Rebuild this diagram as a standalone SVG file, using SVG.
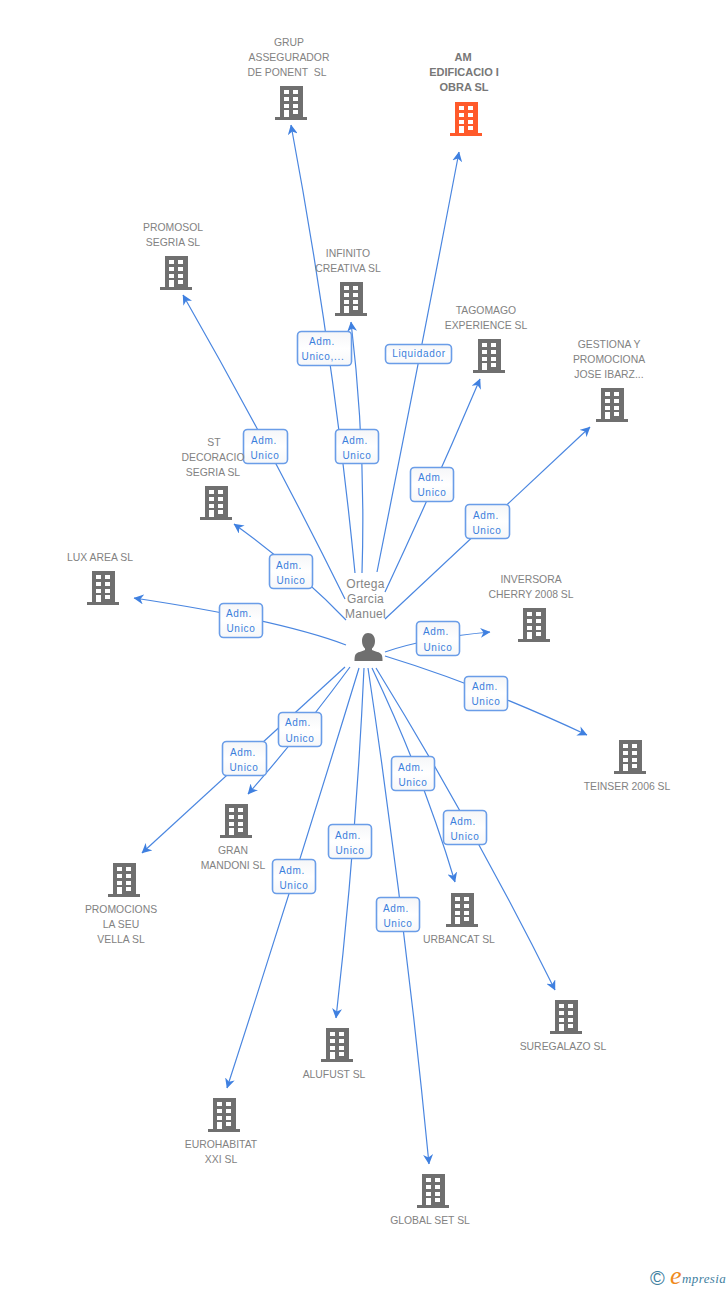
<svg xmlns="http://www.w3.org/2000/svg" width="728" height="1290" viewBox="0 0 728 1290">
<style>
text{font-family:"Liberation Sans",Arial,sans-serif}
.n{font-size:10.4px;fill:#828282;text-anchor:middle}
.b{font-weight:bold;font-size:11px;fill:#777}
.p{font-size:12px;fill:#858585;text-anchor:middle;letter-spacing:.3px}
.c path{fill:none;stroke:#4a86e0;stroke-width:1.2;marker-end:url(#a)}
.l rect{fill:url(#g);stroke:#6a9de8;stroke-width:1.6}
.l text{font-size:10px;fill:#3a7fdc;text-anchor:middle;letter-spacing:.7px}
</style>
<defs>
<linearGradient id="g" x1="0" y1="0" x2="0" y2="1"><stop offset="0" stop-color="#f5f6f8"/><stop offset=".5" stop-color="#fff"/><stop offset="1" stop-color="#f6f7f9"/></linearGradient>
<marker id="a" viewBox="0 0 10 10" refX="9.500" refY="5" markerWidth="10" markerHeight="10" markerUnits="userSpaceOnUse" orient="auto"><path d="M0 0L10 5L0 10L3 5Z" fill="#3f80e0"/></marker>
<symbol id="bld" width="33" height="35" viewBox="0 0 33 35">
<path fill-rule="evenodd" d="M5 0H28V31H32V34H0V31H5ZM9 4V8H14V4ZM18 4V8H23V4ZM9 11V15H14V11ZM18 11V15H23V11ZM9 18V22H14V18ZM18 18V22H23V18ZM9 24V31H14V24ZM18 24V28H23V24Z"/>
</symbol>
</defs>
<g class="c" id="connectors">
<path d="M355 573Q333 349 291 125"/>
<path d="M377 572Q419 362 459 152"/>
<path d="M345 599Q270 447 183 295"/>
<path d="M362 573Q366 447 351 322"/>
<path d="M385 592Q435 485 480 379"/>
<path d="M385 619L590 427"/>
<path d="M346 620Q298 570 234 524"/>
<path d="M346 645Q280 620 134 598"/>
<path d="M385 652Q425 638 490 632"/>
<path d="M385 656Q480 685 587 735"/>
<path d="M350 667Q300 735 248 794"/>
<path d="M345 667L142 853"/>
<path d="M359 668Q295 878 227 1088"/>
<path d="M364 668Q356 843 336 1018"/>
<path d="M368 668Q405 916 429 1164"/>
<path d="M372 668Q423 775 455 882"/>
<path d="M376 668Q475 829 555 990"/>
</g>
<g class="l" id="labels">
<g><rect x="243.500" y="429.500" width="44" height="34" rx="4"/><text x="264" y="444">Adm.</text><text x="265" y="459">Unico</text></g>
<g><rect x="335.500" y="429.500" width="43" height="34" rx="4"/><text x="355" y="444">Adm.</text><text x="357" y="459">Unico</text></g>
<g><rect x="297.500" y="331.500" width="54" height="34" rx="4"/><text x="322" y="345">Adm.</text><text x="323" y="360">Unico,...</text></g>
<g><rect x="385.500" y="344.500" width="66" height="19" rx="4"/><text x="419" y="357">Liquidador</text></g>
<g><rect x="410.500" y="467.500" width="43" height="34" rx="4"/><text x="431" y="481">Adm.</text><text x="432" y="496">Unico</text></g>
<g><rect x="465.500" y="504.500" width="44" height="34" rx="4"/><text x="486" y="519">Adm.</text><text x="487" y="534">Unico</text></g>
<g><rect x="269.500" y="554.500" width="43" height="34" rx="4"/><text x="289" y="569">Adm.</text><text x="291" y="584">Unico</text></g>
<g><rect x="219.500" y="603.500" width="43" height="34" rx="4"/><text x="239" y="617">Adm.</text><text x="241" y="632">Unico</text></g>
<g><rect x="416.500" y="621.500" width="43" height="34" rx="4"/><text x="436" y="635">Adm.</text><text x="438" y="651">Unico</text></g>
<g><rect x="464.500" y="676.500" width="43" height="34" rx="4"/><text x="485" y="690">Adm.</text><text x="486" y="705">Unico</text></g>
<g><rect x="278.500" y="712.500" width="43" height="34" rx="4"/><text x="298" y="726">Adm.</text><text x="300" y="742">Unico</text></g>
<g><rect x="222.500" y="741.500" width="44" height="34" rx="4"/><text x="243" y="756">Adm.</text><text x="244" y="771">Unico</text></g>
<g><rect x="391.500" y="756.500" width="43" height="34" rx="4"/><text x="411" y="771">Adm.</text><text x="413" y="786">Unico</text></g>
<g><rect x="443.500" y="810.500" width="43" height="34" rx="4"/><text x="463" y="825">Adm.</text><text x="465" y="840">Unico</text></g>
<g><rect x="328.500" y="824.500" width="43" height="34" rx="4"/><text x="348" y="839">Adm.</text><text x="350" y="854">Unico</text></g>
<g><rect x="272.500" y="859.500" width="43" height="34" rx="4"/><text x="292" y="874">Adm.</text><text x="294" y="889">Unico</text></g>
<g><rect x="376.500" y="897.500" width="43" height="34" rx="4"/><text x="396" y="912">Adm.</text><text x="398" y="927">Unico</text></g>
</g>
<g id="person">
<path fill="#6f6f6f" d="M368 633c4.500 0 7 3.500 7 8 0 3-1 5.500-3 7.500v1.500c3 1.500 8 2 9.500 4.500 1 2 1 4.500 1 6.500h-28c0-2 0-4.500 1-6.500 1.500-2.500 6.500-3 9.500-4.500v-1.500c-2-2-3-4.500-3-7.500 0-4.500 2.500-8 6-8z"/>
<text class="p"><tspan x="365.500" y="588">Ortega</tspan><tspan x="365.500" y="603">Garcia</tspan><tspan x="365.500" y="618">Manuel</tspan></text>
</g>
<g id="n1"><use href="#bld" x="275" y="86" fill="#6f6f6f"/><text class="n"><tspan x="289" y="46">GRUP</tspan><tspan x="289" y="61">ASSEGURADOR</tspan><tspan x="287" y="76">DE PONENT &#160;SL</tspan></text></g>
<g id="n2"><use href="#bld" x="450" y="102" fill="#ff5a2b"/><text class="n b"><tspan x="463" y="61">AM</tspan><tspan x="464" y="76">EDIFICACIO I</tspan><tspan x="464" y="91">OBRA SL</tspan></text></g>
<g id="n3"><use href="#bld" x="160" y="256" fill="#6f6f6f"/><text class="n"><tspan x="173" y="231">PROMOSOL</tspan><tspan x="173" y="246">SEGRIA SL</tspan></text></g>
<g id="n4"><use href="#bld" x="335" y="282" fill="#6f6f6f"/><text class="n"><tspan x="348" y="257">INFINITO</tspan><tspan x="348" y="272">CREATIVA SL</tspan></text></g>
<g id="n5"><use href="#bld" x="473" y="339" fill="#6f6f6f"/><text class="n"><tspan x="486" y="314">TAGOMAGO</tspan><tspan x="486" y="329">EXPERIENCE SL</tspan></text></g>
<g id="n6"><use href="#bld" x="596" y="388" fill="#6f6f6f"/><text class="n"><tspan x="609" y="348">GESTIONA Y</tspan><tspan x="609" y="363">PROMOCIONA</tspan><tspan x="609" y="378">JOSE IBARZ...</tspan></text></g>
<g id="n7"><use href="#bld" x="200" y="486" fill="#6f6f6f"/><text class="n"><tspan x="214" y="446">ST</tspan><tspan x="213" y="461">DECORACIO</tspan><tspan x="213" y="476">SEGRIA SL</tspan></text></g>
<g id="n8"><use href="#bld" x="87" y="571" fill="#6f6f6f"/><text class="n"><tspan x="100" y="561">LUX AREA SL</tspan></text></g>
<g id="n9"><use href="#bld" x="518" y="608" fill="#6f6f6f"/><text class="n"><tspan x="531" y="583">INVERSORA</tspan><tspan x="531" y="598">CHERRY 2008 SL</tspan></text></g>
<g id="n10"><use href="#bld" x="614" y="740" fill="#6f6f6f"/><text class="n"><tspan x="627" y="790">TEINSER 2006 SL</tspan></text></g>
<g id="n11"><use href="#bld" x="220" y="804" fill="#6f6f6f"/><text class="n"><tspan x="233" y="854">GRAN</tspan><tspan x="233" y="869">MANDONI SL</tspan></text></g>
<g id="n12"><use href="#bld" x="108" y="863" fill="#6f6f6f"/><text class="n"><tspan x="121" y="913">PROMOCIONS</tspan><tspan x="121" y="928">LA SEU</tspan><tspan x="121" y="943">VELLA SL</tspan></text></g>
<g id="n13"><use href="#bld" x="208" y="1098" fill="#6f6f6f"/><text class="n"><tspan x="221" y="1148">EUROHABITAT</tspan><tspan x="221" y="1163">XXI SL</tspan></text></g>
<g id="n14"><use href="#bld" x="321" y="1028" fill="#6f6f6f"/><text class="n"><tspan x="334" y="1078">ALUFUST SL</tspan></text></g>
<g id="n15"><use href="#bld" x="417" y="1174" fill="#6f6f6f"/><text class="n"><tspan x="430" y="1224">GLOBAL SET SL</tspan></text></g>
<g id="n16"><use href="#bld" x="446" y="893" fill="#6f6f6f"/><text class="n"><tspan x="459" y="943">URBANCAT SL</tspan></text></g>
<g id="n17"><use href="#bld" x="550" y="1000" fill="#6f6f6f"/><text class="n"><tspan x="563" y="1050">SUREGALAZO SL</tspan></text></g>
<g id="logo">
<text x="650" y="1285" font-size="20" fill="#3f7f9f">©</text>
<text x="670" y="1284" font-size="26" font-style="italic" fill="#f08a1d" style="font-family:'Liberation Serif',serif">e</text>
<text x="682" y="1283" font-size="13" font-style="italic" fill="#3f7f9f" style="font-family:'Liberation Serif',serif" letter-spacing=".4">mpresia</text>
</g>
</svg>
